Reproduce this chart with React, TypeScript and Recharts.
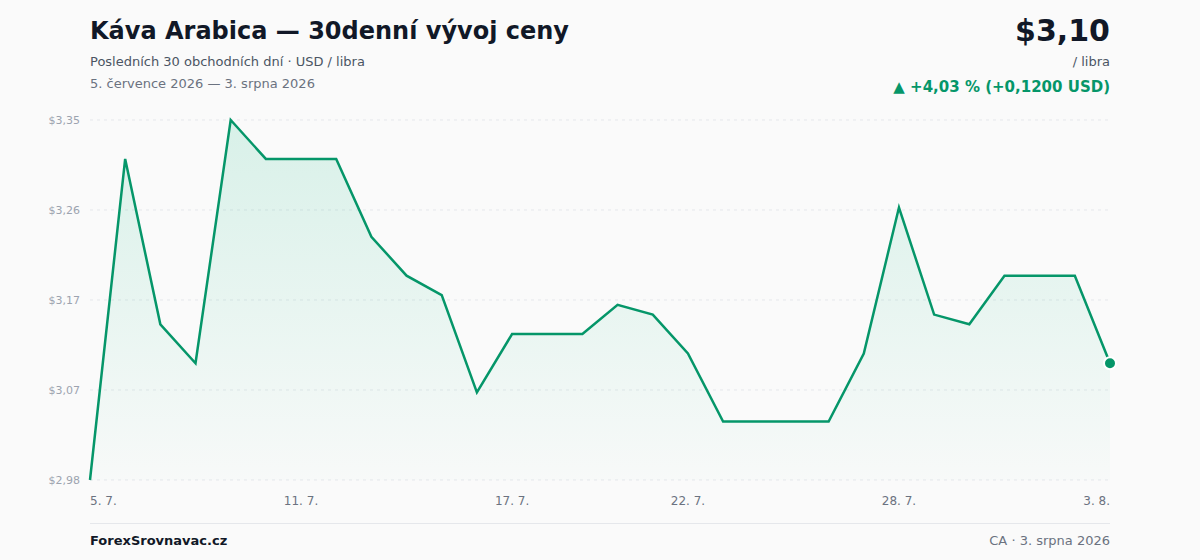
import { AreaChart, Area, XAxis, YAxis, CartesianGrid, ReferenceDot } from 'recharts';

const dates = [
  '5. 7.', '6. 7.', '7. 7.', '8. 7.', '9. 7.', '10. 7.', '11. 7.', '12. 7.', '13. 7.', '14. 7.',
  '15. 7.', '16. 7.', '17. 7.', '18. 7.', '19. 7.', '20. 7.', '21. 7.', '22. 7.', '23. 7.', '24. 7.',
  '25. 7.', '26. 7.', '27. 7.', '28. 7.', '29. 7.', '30. 7.', '31. 7.', '1. 8.', '2. 8.', '3. 8.',
];

const prices = [
  2.98, 3.31, 3.14, 3.10, 3.35, 3.31, 3.31, 3.31, 3.23, 3.19,
  3.17, 3.07, 3.13, 3.13, 3.13, 3.16, 3.15, 3.11, 3.04, 3.04,
  3.04, 3.04, 3.11, 3.26, 3.15, 3.14, 3.19, 3.19, 3.19, 3.10,
];

const xTickDates = ['5. 7.', '11. 7.', '17. 7.', '22. 7.', '28. 7.', '3. 8.'];
const yTicks = [2.98, 3.0725, 3.165, 3.2575, 3.35];
const yTickLabels = ['$2,98', '$3,07', '$3,17', '$3,26', '$3,35'];

const data = dates.map((d, i) => ({ date: d, price: prices[i] }));
const last = data[data.length - 1];

const FONT = '"DejaVu Sans", sans-serif';
const GREEN = '#059669';

function XTick(props: any) {
  const { x, y, payload } = props;
  const v = payload.value;
  let anchor: 'start' | 'middle' | 'end' = 'middle';
  if (v === dates[0]) anchor = 'start';
  if (v === dates[dates.length - 1]) anchor = 'end';
  return (
    <text x={x} y={y} dy={8} textAnchor={anchor} fill="#6b7280" fontSize={12} fontFamily={FONT}>
      {v}
    </text>
  );
}

export default function App() {
  return (
    <div
      style={{
        position: 'absolute',
        left: 0,
        top: 0,
        width: 1200,
        height: 560,
        background: '#fafafa',
        fontFamily: FONT,
        overflow: 'hidden',
      }}
    >
      <div style={{ position: 'absolute', left: 90, top: 17, fontSize: 24, fontWeight: 700, color: '#111827' }}>
        Káva Arabica — 30denní vývoj ceny
      </div>
      <div style={{ position: 'absolute', left: 90, top: 54, fontSize: 13, color: '#4b5563' }}>
        Posledních 30 obchodních dní · USD / libra
      </div>
      <div style={{ position: 'absolute', left: 90, top: 76, fontSize: 13, color: '#6b7280' }}>
        5. července 2026 — 3. srpna 2026
      </div>

      <div style={{ position: 'absolute', right: 90, top: 13, fontSize: 30, fontWeight: 700, color: '#111827', textAlign: 'right' }}>
        $3,10
      </div>
      <div style={{ position: 'absolute', right: 90, top: 54, fontSize: 13, color: '#4b5563', textAlign: 'right' }}>
        / libra
      </div>
      <div style={{ position: 'absolute', right: 90, top: 78, fontSize: 15, fontWeight: 700, color: GREEN, textAlign: 'right' }}>
        ▲ +4,03 % (+0,1200 USD)
      </div>

      <div style={{ position: 'absolute', left: 0, top: 0 }}>
        <AreaChart width={1200} height={560} data={data} margin={{ top: 120, right: 90, bottom: 50, left: 30 }}>
          <defs>
            <linearGradient id="fillG" x1="0" y1="0" x2="0" y2="1">
              <stop offset="0%" stopColor="#10b981" stopOpacity={0.24} />
              <stop offset="100%" stopColor="#10b981" stopOpacity={0.02} />
            </linearGradient>
          </defs>
          <CartesianGrid vertical={false} stroke="#e5e7eb" strokeDasharray="3 4" />
          <XAxis
            dataKey="date"
            ticks={xTickDates}
            interval={0}
            height={30}
            axisLine={false}
            tickLine={false}
            tickSize={0}
            tickMargin={17}
            tick={<XTick />}
          />
          <YAxis
            width={60}
            domain={[2.98, 3.35]}
            ticks={yTicks}
            interval={0}
            axisLine={false}
            tickLine={false}
            tickSize={0}
            tickMargin={10}
            tickFormatter={(v: number) => yTickLabels[yTicks.indexOf(v)] ?? ''}
            tick={{ fill: '#9ca3af', fontSize: 11, fontFamily: FONT }}
          />
          <Area
            type="linear"
            dataKey="price"
            stroke={GREEN}
            strokeWidth={2.5}
            fill="url(#fillG)"
            baseValue="dataMin"
            dot={false}
            activeDot={false}
            isAnimationActive={false}
          />
          <ReferenceDot x={last.date} y={last.price} r={6} fill={GREEN} stroke="#ffffff" strokeWidth={2} />
        </AreaChart>
      </div>

      <div style={{ position: 'absolute', left: 90, top: 523, width: 1020, height: 1, background: '#e5e7eb' }} />
      <div style={{ position: 'absolute', left: 90, top: 533, fontSize: 13, fontWeight: 700, color: '#111827' }}>
        ForexSrovnavac.cz
      </div>
      <div style={{ position: 'absolute', right: 90, top: 533, fontSize: 13, color: '#6b7280' }}>
        CA · 3. srpna 2026
      </div>
    </div>
  );
}
